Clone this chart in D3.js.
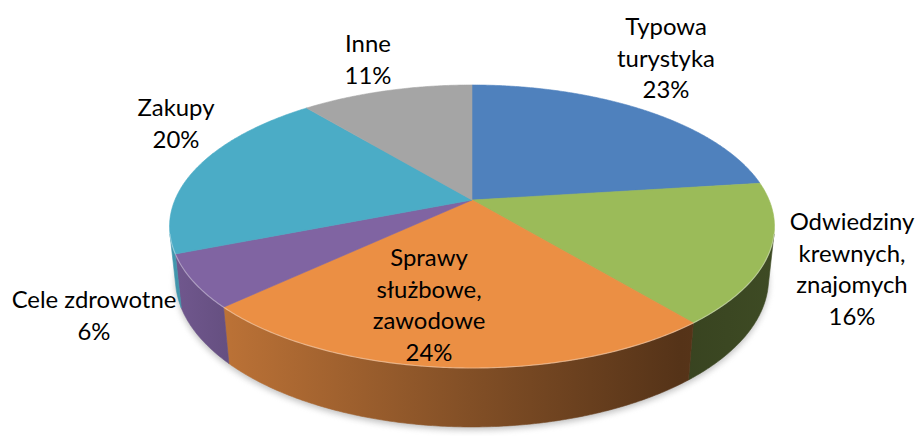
<!DOCTYPE html>
<html>
<head>
<meta charset="utf-8">
<script src="https://cdn.jsdelivr.net/npm/d3@7"></script>
<style>
  html, body { margin: 0; padding: 0; background: #fff; }
  svg { display: block; }
</style>
</head>
<body>
<script>
// ---- data ----
const categories = ["Typowa turystyka", "Odwiedziny krewnych, znajomych", "Sprawy służbowe, zawodowe", "Cele zdrowotne", "Zakupy", "Inne"];
const values = [23, 16, 24, 6, 20, 11];
const labelLines = [["Typowa", "turystyka"], ["Odwiedziny", "krewnych,", "znajomych"], ["Sprawy", "służbowe,", "zawodowe"], ["Cele zdrowotne"], ["Zakupy"], ["Inne"]];
const titleText = "Główne cele przyjazdów cudzoziemców do Polski";

// ---- style / layout ----
const colors = ["#4f81bd", "#9bbb59", "#eb8f44", "#8064a2", "#4bacc6", "#a5a5a5"];
// label block centres (first line centre), Excel "best fit" placement
const labelLayout = [
  { x: 666, y: 27 },
  { x: 852, y: 222 },
  { x: 429, y: 258 },
  { x: 94, y: 300 },
  { x: 176, y: 108 },
  { x: 368, y: 44 }
];
const lineStep = 31.5;

const W = 918, H = 436;
const svg = d3.select("body").append("svg").attr("width", W).attr("height", H);
const defs = svg.append("defs");

// perspective camera for a tilted disc of radius 1
const cam = { cx: 472, cy: 200, f: 1408.6, D: 4.741, sinA: 0.4596, cosA: 0.888, h: 0.198 };
function proj(theta, rho, Y) {
  const X = rho * Math.sin(theta), Z = rho * Math.cos(theta);
  const depth = cam.D - Y * cam.sinA + Z * cam.cosA;
  const up = Y * cam.cosA + Z * cam.sinA;
  return [cam.cx + cam.f * X / depth, cam.cy - cam.f * up / depth];
}
const theta0 = Math.acos(-1 / (cam.D * cam.cosA));
const theta1 = 2 * Math.PI - theta0;

const pie = d3.pie().sort(null).value(d => d).startAngle(0).endAngle(2 * Math.PI);
const arcs = pie(values);
const total = d3.sum(values);

function sample(a0, a1, rho, Y) {
  const n = Math.max(2, Math.ceil(Math.abs(a1 - a0) / (Math.PI / 360)));
  return d3.range(n + 1).map(i => proj(a0 + (a1 - a0) * i / n, rho, Y));
}
const line = d3.line();

// shadow filter
const filt = defs.append("filter").attr("id", "shadow").attr("x", "-10%").attr("y", "-10%").attr("width", "120%").attr("height", "130%");
filt.append("feGaussianBlur").attr("stdDeviation", 3);

// shadow beneath the pie
const bottomRing = sample(0, 2 * Math.PI, 1.0, -cam.h);
svg.append("path")
  .attr("d", line(bottomRing) + "Z")
  .attr("transform", "translate(0,3)")
  .attr("fill", "#8c8c8c")
  .attr("opacity", 0.55)
  .attr("filter", "url(#shadow)");

// side shading stops (screen x, brightness)
const shadeStops = [[170, 0.88], [230, 0.79], [470, 0.555], [680, 0.36], [775, 0.40]];
const gx0 = 170, gx1 = 775;

const sideG = svg.append("g");
arcs.forEach((a, i) => {
  const s = Math.max(a.startAngle, theta0), e = Math.min(a.endAngle, theta1);
  if (e <= s) return;
  const base = d3.rgb(colors[i]);
  const gid = "side" + i;
  const grad = defs.append("linearGradient").attr("id", gid)
    .attr("gradientUnits", "userSpaceOnUse")
    .attr("x1", gx0).attr("x2", gx1).attr("y1", 0).attr("y2", 0);
  shadeStops.forEach(([x, k]) => {
    grad.append("stop")
      .attr("offset", (x - gx0) / (gx1 - gx0))
      .attr("stop-color", d3.rgb(base.r * k, base.g * k, base.b * k).formatHex());
  });
  const top = sample(s, e, 1, 0);
  const bot = sample(e, s, 1, -cam.h);
  sideG.append("path")
    .attr("d", line(top.concat(bot)) + "Z")
    .attr("fill", `url(#${gid})`)
    .attr("stroke", `url(#${gid})`)
    .attr("stroke-width", 0.6);
});

// top faces
const topG = svg.append("g");
arcs.forEach((a, i) => {
  const pts = [proj(0, 0, 0)].concat(sample(a.startAngle, a.endAngle, 1, 0));
  topG.append("path")
    .attr("d", line(pts) + "Z")
    .attr("fill", colors[i])
    .attr("stroke", colors[i])
    .attr("stroke-width", 0.6)
    .attr("stroke-linejoin", "round");
});

// rim highlight on the front edge
svg.append("path")
  .attr("d", line(sample(theta0, theta1, 1, 0)))
  .attr("fill", "none")
  .attr("stroke", "rgba(255,255,255,0.35)")
  .attr("stroke-width", 1.2);

// ---- labels ----
const fontFamily = "Lato, 'Open Sans', sans-serif";
const probe = svg.append("text").attr("font-family", fontFamily).attr("font-size", 100).text("Cele zdrowotne");
const w100 = probe.node().getComputedTextLength();
probe.remove();
const fontSize = Math.round(165 / w100 * 100 * 10) / 10;

const labelsG = svg.append("g")
  .attr("font-family", fontFamily)
  .attr("font-size", fontSize)
  .attr("fill", "#000")
  .attr("text-anchor", "middle");

arcs.forEach((a, i) => {
  const pct = Math.round(values[i] / total * 100) + "%";
  const lines = labelLines[i].concat([pct]);
  const L = labelLayout[i];
  const t = labelsG.append("text");
  lines.forEach((ln, j) => {
    t.append("tspan")
      .attr("x", L.x)
      .attr("y", L.y + j * lineStep + fontSize * 0.34)
      .text(ln);
  });
});

// title (cut off at the top edge of the picture, as in the reference)
svg.append("text")
  .attr("x", 476)
  .attr("y", -4)
  .attr("text-anchor", "middle")
  .attr("font-family", fontFamily)
  .attr("font-weight", "bold")
  .attr("font-size", 27)
  .attr("fill", "#333")
  .text(titleText);
</script>
</body>
</html>
